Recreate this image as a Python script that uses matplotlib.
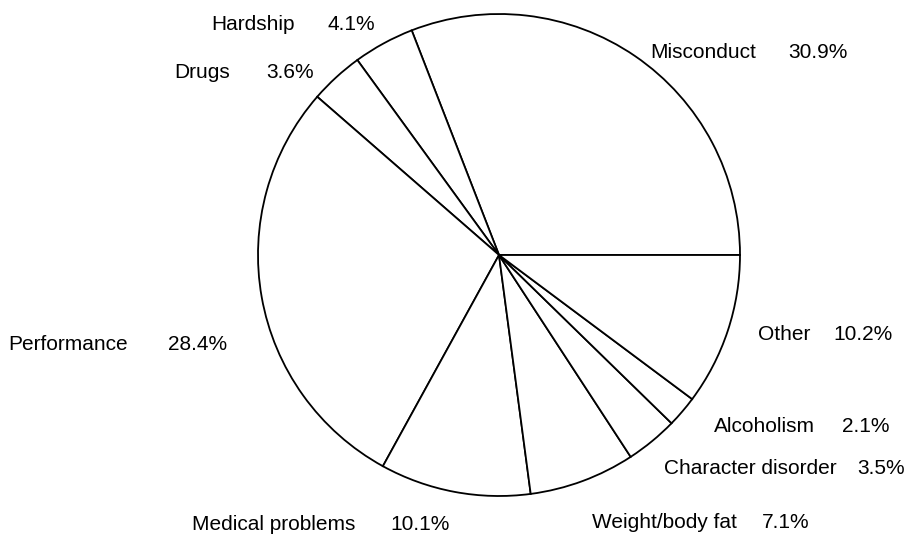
import matplotlib.pyplot as plt

categories = ["Misconduct", "Hardship", "Drugs", "Performance", "Medical problems",
              "Weight/body fat", "Character disorder", "Alcoholism", "Other"]
shares = [30.9, 4.1, 3.6, 28.4, 10.1, 7.1, 3.5, 2.1, 10.2]

# label anchors in pixels of the 921x536 frame: (name right edge, pct left edge, text middle y)
label_px = [(756, 788, 51), (295, 327, 22), (230, 266, 70), (128, 168, 342),
            (355, 390, 523), (737, 762, 521), (837, 857, 466), (815, 842, 425),
            (810, 833, 333)]

plt.rcParams["font.family"] = ["Liberation Sans", "DejaVu Sans"]

fig = plt.figure(figsize=(9.21, 5.36), dpi=100)
cx, cy, r = 499, 536 - 255, 241
ax = fig.add_axes([(cx - r) / 921, (cy - r) / 536, 2 * r / 921, 2 * r / 536])

wedges, _ = ax.pie(shares, startangle=0, counterclock=True, colors=["white"] * len(shares),
                   wedgeprops=dict(edgecolor="black", linewidth=1.3))
for w in wedges:
    w.set_clip_on(False)
ax.set_xlim(-1, 1)
ax.set_ylim(-1, 1)
ax.set_aspect("equal")
ax.axis("off")

for name, pct, (xe, xs, py) in zip(categories, shares, label_px):
    yb = 1 - (py + 7.5) / 536
    fig.text(xe / 921, yb, name, ha="right", va="baseline", fontsize=15)
    fig.text(xs / 921, yb, f"{pct}%", ha="left", va="baseline", fontsize=15)

fig.savefig("out.png", dpi=100)
